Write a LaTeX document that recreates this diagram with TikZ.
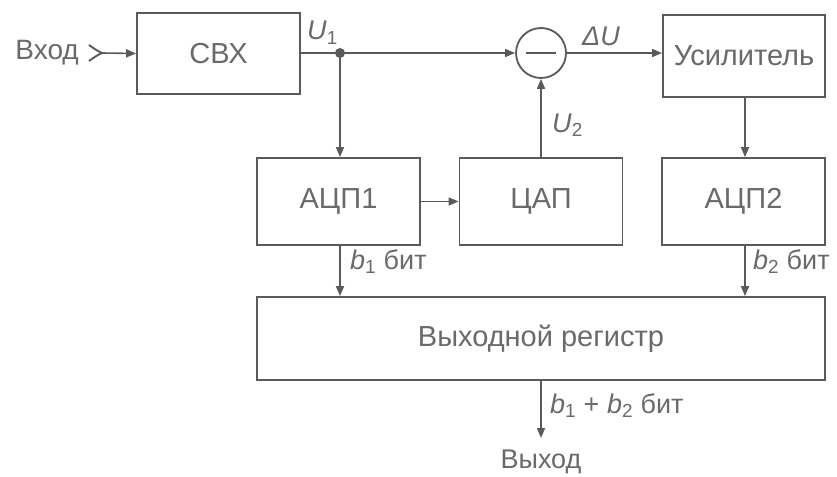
\documentclass[tikz,border=0pt]{standalone}
\usepackage{fontspec}
\setmainfont{Liberation Sans}
\usetikzlibrary{arrows.meta}
\definecolor{ln}{HTML}{5A5A5A}
\definecolor{tx}{HTML}{6A6A6A}
\begin{document}
\begin{tikzpicture}[x=1pt,y=-1pt,
  every node/.style={text=tx,font=\fontsize{27}{31}\selectfont},
  blk/.style={draw=ln,line width=1.8pt,inner sep=0pt,font=\fontsize{29}{33}\selectfont},
  conn/.style={draw=ln,line width=1.6pt,-{Triangle[length=10pt,width=8pt]}},
  lbl/.style={inner sep=0pt}]
\useasboundingbox[fill=white] (0,0) rectangle (837,476);
\node[anchor=east,inner sep=0pt,font=\fontsize{28}{32}\selectfont] (in) at (79,53) {Вход};
\coordinate (chv) at (102,53);
\draw[ln,line width=1.9pt] (89,45) .. controls (96,50) .. (chv) .. controls (96,56) .. (89,61);
\node[blk,minimum width=163pt,minimum height=81pt] (svx) at (218.5,53.5) {СВХ};
\coordinate (j) at (340,53);
\fill[ln] (j) circle (5pt);
\node[draw=ln,line width=1.8pt,circle,minimum size=50pt,inner sep=0pt] (sum) at (541,53) {};
\draw[ln,line width=2.6pt] ([xshift=-15pt]sum.center) -- ([xshift=15pt]sum.center);
\node[blk,minimum width=162pt,minimum height=82pt] (amp) at (744,56) {Усилитель};
\node[blk,minimum width=163pt,minimum height=87pt] (adc1) at (338.5,201.5) {АЦП1};
\node[blk,minimum width=163pt,minimum height=87pt] (dac) at (541,201.5) {ЦАП};
\node[blk,minimum width=163pt,minimum height=87pt] (adc2) at (743.5,201.5) {АЦП2};
\node[blk,minimum width=568pt,minimum height=83pt] (reg) at (541,338.5) {Выходной регистр};
\node (out) at (541,462) {Выход};
\coordinate (oend) at (541,438);

\draw[conn] (chv) -- (svx.west);
\draw[draw=ln,line width=1.6pt] (svx.east |- j) -- (j);
\draw[conn] (j) -- (sum.west);
\draw[conn] (sum.east) -- (amp.west |- sum.east);
\draw[conn] (j) -- (j |- adc1.north);
\draw[conn] (adc1.east) -- (dac.west);
\draw[conn] (dac.north) -- (sum.south);
\draw[conn] (amp.south -| 745,0) -- (adc2.north -| 745,0);
\draw[conn] (adc1.south -| j) -- (reg.north -| j);
\draw[conn] (adc2.south -| 745,0) -- (reg.north -| 745,0);
\draw[conn] (reg.south) -- (oend);

\node[lbl,anchor=base west] (u1) at (307,40) {\textit{U}\textsubscript{1}};
\node[lbl,anchor=base west] (du) at (582,46) {\textit{ΔU}};
\node[lbl,anchor=base west] (u2) at (552,132) {\textit{U}\textsubscript{2}};
\node[lbl,anchor=base west] (b1) at (350,269) {\textit{b}\textsubscript{1} бит};
\node[lbl,anchor=base west] (b2) at (753,269) {\textit{b}\textsubscript{2} бит};
\node[lbl,anchor=base west] (b12) at (550,413) {\textit{b}\textsubscript{1} + \textit{b}\textsubscript{2} бит};
\end{tikzpicture}
\end{document}
